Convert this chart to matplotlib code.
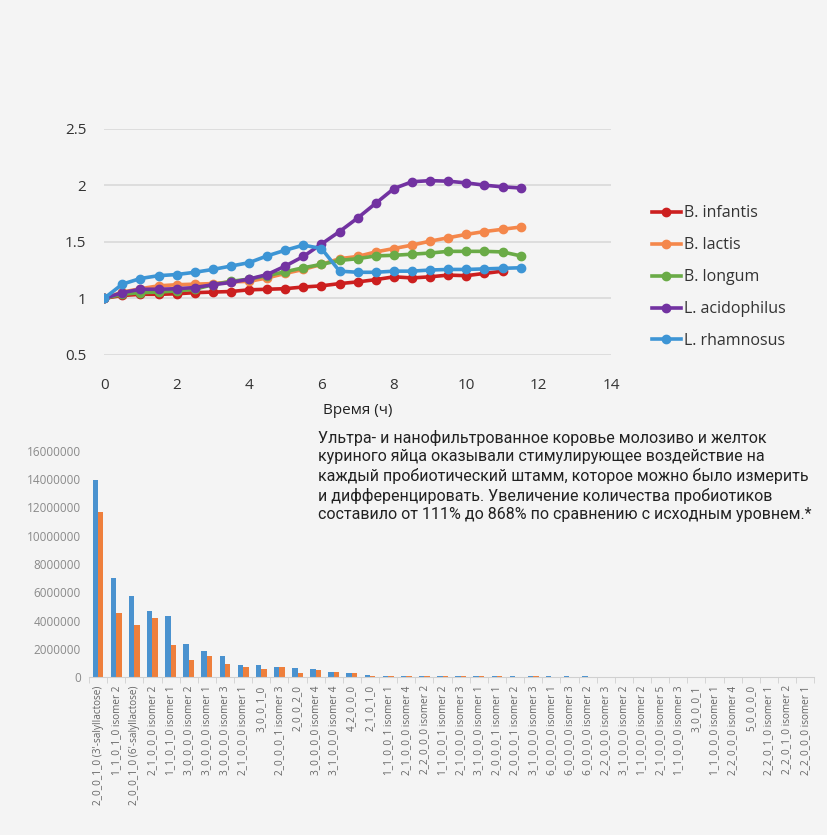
import numpy as np
import matplotlib
matplotlib.use("Agg")
from matplotlib import pyplot as plt

# line chart data (growth relative to start)
hours = [0, 0.5, 1, 1.5, 2, 2.5, 3, 3.5, 4, 4.5, 5, 5.5, 6, 6.5, 7, 7.5,
         8, 8.5, 9, 9.5, 10, 10.5, 11, 11.5]
b_infantis = [1.0, 1.025, 1.035, 1.035, 1.04, 1.05, 1.055, 1.06, 1.075, 1.08, 1.085, 1.1,
              1.11, 1.13, 1.145, 1.165, 1.19, 1.18, 1.19, 1.205, 1.2, 1.22, 1.24]
b_lactis = [1.0, 1.055, 1.085, 1.11, 1.12, 1.125, 1.13, 1.145, 1.15, 1.18, 1.22, 1.255,
            1.3, 1.35, 1.37, 1.41, 1.44, 1.47, 1.505, 1.535, 1.565, 1.59, 1.61, 1.63]
b_longum = [1.0, 1.035, 1.05, 1.055, 1.065, 1.08, 1.12, 1.15, 1.17, 1.2, 1.235, 1.27,
            1.3, 1.335, 1.35, 1.375, 1.38, 1.39, 1.4, 1.415, 1.415, 1.415, 1.41, 1.375]
l_acidophilus = [1.0, 1.05, 1.08, 1.08, 1.085, 1.095, 1.12, 1.14, 1.17, 1.21, 1.285, 1.37,
                 1.48, 1.59, 1.71, 1.84, 1.97, 2.03, 2.04, 2.035, 2.02, 2.0, 1.985, 1.975]
l_rhamnosus = [1.0, 1.125, 1.175, 1.2, 1.21, 1.23, 1.255, 1.285, 1.315, 1.375, 1.425, 1.47,
               1.44, 1.24, 1.23, 1.23, 1.24, 1.24, 1.25, 1.255, 1.255, 1.26, 1.265, 1.27]

# bar chart data
bar_labels = ["2_0_0_1_0 (3'-salyllactose)", "1_1_0_1_0 isomer 2", "2_0_0_1_0 (6'-salyllactose)",
              "2_1_0_0_0 isomer 2", "1_1_0_1_0 isomer 1", "3_0_0_0_0 isomer 2", "3_0_0_0_0 isomer 1",
              "3_0_0_0_0 isomer 3", "2_1_0_0_0 isomer 1", "3_0_0_1_0", "2_0_0_0_1 isomer 3",
              "2_0_0_2_0", "3_0_0_0_0 isomer 4", "3_1_0_0_0 isomer 4", "4_2_0_0_0", "2_1_0_1_0",
              "1_1_0_0_1 isomer 1", "2_1_0_0_0 isomer 4", "2_2_0_0_0 isomer 2", "1_1_0_0_1 isomer 2",
              "2_1_0_0_0 isomer 3", "3_1_0_0_0 isomer 1", "2_0_0_0_1 isomer 1", "2_0_0_0_1 isomer 2",
              "3_1_0_0_0 isomer 3", "6_0_0_0_0 isomer 1", "6_0_0_0_0 isomer 3", "6_0_0_0_0 isomer 2",
              "2_2_0_0_0 isomer 3", "3_1_0_0_0 isomer 2", "1_1_0_0_0 isomer 2", "2_1_0_0_0 isomer 5",
              "1_1_0_0_0 isomer 3", "3_0_0_0_1", "1_1_0_0_0 isomer 1", "2_2_0_0_0 isomer 4",
              "5_0_0_0_0", "2_2_0_1_0 isomer 1", "2_2_0_1_0 isomer 2", "2_2_0_0_0 isomer 1"]
blue_vals = [13950000, 7030000, 5710000, 4670000, 4300000, 2340000, 1860000, 1510000, 870000, 870000,
             730000, 620000, 580000, 390000, 260000, 140000, 80000, 70000, 70000, 80000,
             70000, 80000, 60000, 60000, 50000, 40000, 40000, 40000, 30000, 30000,
             30000, 30000, 20000, 20000, 20000, 20000, 20000, 20000, 20000, 20000]
orange_vals = [11680000, 4530000, 3680000, 4200000, 2270000, 1200000, 1510000, 900000, 730000, 590000,
               730000, 260000, 500000, 380000, 260000, 50000, 40000, 60000, 40000, 50000,
               40000, 60000, 40000, 30000, 40000, 30000, 20000, 30000, 20000, 20000,
               20000, 20000, 10000, 10000, 10000, 10000, 10000, 10000, 10000, 10000]

bg = '#f4f4f4'
fig = plt.figure(figsize=(8.27, 8.35), dpi=100, facecolor=bg)
plt.rcParams['font.family'] = ['Open Sans', 'DejaVu Sans']

# top line chart
ax = fig.add_axes([0.126, 0.575, 0.613, 0.271], facecolor=bg)
series = [("B. infantis", b_infantis, '#cc1f1f'),
          ("B. lactis", b_lactis, '#f4874b'),
          ("B. longum", b_longum, '#6aab47'),
          ("L. acidophilus", l_acidophilus, '#7232a1'),
          ("L. rhamnosus", l_rhamnosus, '#3d95d5')]
for name, vals, col in series:
    ax.plot(hours[:len(vals)], vals, color=col, lw=2.6, marker='o', ms=6, label=name)
ax.set_xlim(0, 14)
ax.set_ylim(0.5, 2.5)
ax.set_xticks(range(0, 15, 2))
ax.set_yticks([0.5, 1, 1.5, 2, 2.5])
ax.set_yticklabels(['0.5', '1', '1.5', '2', '2.5'])
ax.grid(axis='y', color='#d9d9d9', lw=1.2)
ax.set_axisbelow(True)
for s in ax.spines.values():
    s.set_visible(False)
ax.tick_params(axis='y', length=0, labelsize=11, colors='#333333', pad=13)
ax.tick_params(axis='x', length=0, labelsize=11, colors='#333333', pad=17)
ax.set_xlabel("Время (ч)", fontsize=11, color='#222222', labelpad=7)
ax.legend(loc='upper left', bbox_to_anchor=(1.052, 0.725), frameon=False, fontsize=11.5,
          labelspacing=1.0, handlelength=1.8, handletextpad=0.2, labelcolor='#333333')

# bottom bar chart
bx = fig.add_axes([0.1076, 0.1892, 0.877, 0.2707], facecolor=bg)
x = np.arange(len(bar_labels))
w = 0.3
bx.bar(x - w / 2, blue_vals, w, color='#4a92cf')
bx.bar(x + w / 2, orange_vals, w, color='#ee7f3c')
bx.set_xlim(-0.5, len(bar_labels) - 0.5)
bx.set_ylim(0, 16000000)
bx.set_yticks(range(0, 16000001, 2000000))
bx.set_yticklabels([str(v) for v in range(0, 16000001, 2000000)])
for s in ['top', 'right', 'left']:
    bx.spines[s].set_visible(False)
bx.spines['bottom'].set_color('#d0d0d0')
bx.set_xticks(x)
bx.set_xticklabels(bar_labels, rotation=90, fontsize=7.2, color='#666666')
bx.set_xticks(np.arange(-0.5, len(bar_labels), 1), minor=True)
bx.tick_params(axis='x', which='major', length=0, pad=6)
bx.tick_params(axis='x', which='minor', length=4, color='#d0d0d0')
bx.tick_params(axis='y', length=0, labelsize=8.5, labelcolor='#8a8a8a', pad=6)

fig.text(0.384, 0.485,
         "Ультра- и нанофильтрованное коровье молозиво и желток\n"
         "куриного яйца оказывали стимулирующее воздействие на\n"
         "каждый пробиотический штамм, которое можно было измерить\n"
         "и дифференцировать. Увеличение количества пробиотиков\n"
         "составило от 111% до 868% по сравнению с исходным уровнем.*",
         fontsize=11.5, color='#222222', va='top', ha='left', linespacing=1.28,
         family=['Roboto', 'DejaVu Sans'])

fig.savefig('out.png', dpi=100, facecolor=bg)
